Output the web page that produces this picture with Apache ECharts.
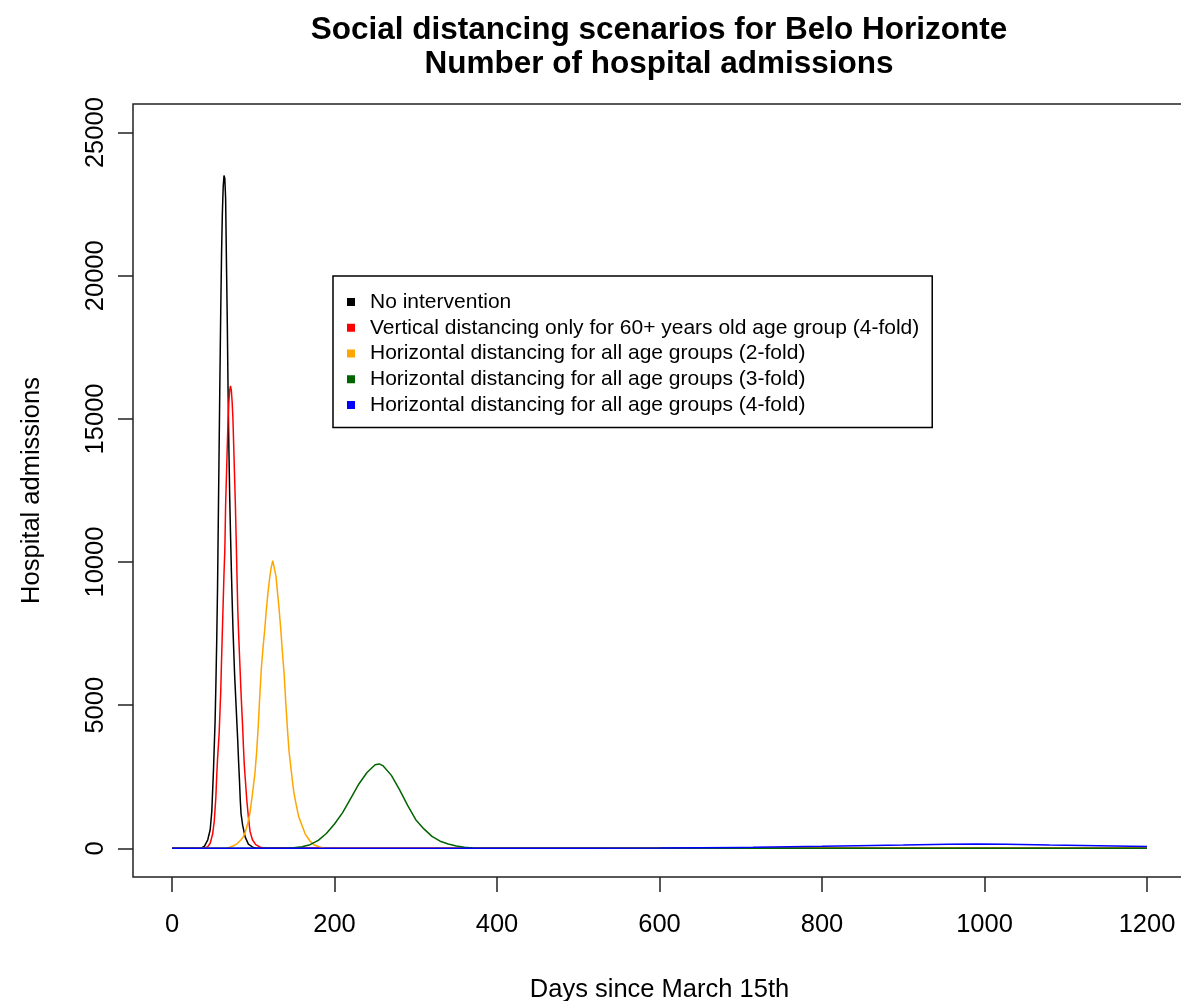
<!DOCTYPE html>
<html>
<head>
<meta charset="utf-8">
<title>Social distancing scenarios for Belo Horizonte</title>
<script src="https://cdn.jsdelivr.net/npm/echarts@6/dist/echarts.min.js"></script>
<style>
  html, body { margin: 0; padding: 0; background: #ffffff; }
  #chart { width: 1181px; height: 1001px; }
</style>
</head>
<body>
<div id="chart"></div>
<script>
// Daily hospital admissions per scenario, as [day, admissions] pairs.
var noIntervention = [
  [0, 0], [30, 0], [36, 5], [40, 80], [44, 300], [47, 650], [49, 1300], [51, 2700],
  [53, 4400], [54, 5700], [55, 7200], [56, 9000], [57, 11500], [58, 14000], [59, 16500],
  [60, 18800], [61, 20800], [62, 22200], [63, 23100], [64, 23500], [65, 23400],
  [66, 22700], [67, 20500], [68, 18500], [69, 16000], [70, 14000], [71, 12300],
  [72, 11000], [73, 9800], [74, 8700], [75, 7700], [76, 6900], [77, 6100], [78, 5500],
  [79, 4900], [80, 4300], [81, 3700], [82, 3000], [83, 2400], [84, 1700], [85, 1200],
  [87, 800], [90, 400], [94, 150], [100, 30], [105, 0], [1200, 0]
];
var verticalElderly4 = [
  [0, 0], [36, 0], [40, 10], [44, 60], [47, 180], [50, 500], [52, 950], [54, 1800],
  [55, 2500], [56, 3100], [58, 4000], [60, 5500], [61, 6600], [62, 7600], [63, 8600],
  [64, 9600], [65, 10400], [66, 12000], [67, 13000], [68, 14000], [69, 15000],
  [70, 15600], [71, 16000], [72, 16150], [73, 16000], [74, 15600], [75, 15000],
  [76, 14000], [77, 13000], [78, 12000], [79, 10800], [80, 9500], [81, 8300],
  [82, 7500], [83, 6800], [84, 6100], [85, 5400], [86, 4800], [87, 4200], [88, 3500],
  [89, 2900], [90, 2500], [91, 2100], [92, 1700], [94, 1100], [96, 600], [99, 300],
  [103, 130], [108, 50], [115, 0], [1200, 0]
];
var horizontal2 = [
  [0, 0], [65, 0], [70, 30], [75, 80], [80, 160], [85, 300], [88, 420], [90, 550],
  [93, 850], [96, 1250], [99, 1900], [102, 2600], [104, 3300], [106, 4200], [108, 5300],
  [110, 6300], [112, 7000], [114, 7600], [116, 8300], [118, 8900], [120, 9400],
  [122, 9800], [124, 10050], [125, 10100], [126, 10000], [128, 9500], [130, 8900],
  [132, 8300], [134, 7600], [136, 6800], [138, 6100], [140, 5100], [142, 4200],
  [144, 3400], [146, 2900], [148, 2400], [150, 1950], [153, 1500], [156, 1100],
  [160, 800], [164, 500], [170, 250], [175, 120], [182, 50], [190, 0], [1200, 0]
];
var horizontal3 = [
  [0, 0], [140, 0], [150, 20], [160, 60], [170, 130], [180, 280], [190, 520], [200, 850],
  [210, 1250], [220, 1750], [230, 2250], [240, 2650], [250, 2920], [255, 2950],
  [260, 2880], [270, 2550], [280, 2050], [290, 1500], [300, 1000], [310, 680],
  [320, 420], [330, 250], [340, 150], [350, 80], [360, 40], [370, 15], [380, 0], [1200, 0]
];
var horizontal4 = [
  [0, 0], [400, 2], [500, 5], [600, 12], [650, 20], [700, 32], [715, 36], [760, 55],
  [800, 70], [843, 90], [900, 115], [955, 140], [990, 150], [1027, 140], [1080, 115],
  [1140, 90], [1200, 65]
];

var seriesNames = [
  'No intervention',
  'Vertical distancing only for 60+ years old age group (4-fold)',
  'Horizontal distancing for all age groups (2-fold)',
  'Horizontal distancing for all age groups (3-fold)',
  'Horizontal distancing for all age groups (4-fold)'
];
var seriesColors = ['#000000', '#ff0000', '#ffa500', '#006400', '#0000ff'];
var seriesData = [noIntervention, verticalElderly4, horizontal2, horizontal3, horizontal4];

var xTicks = [0, 200, 400, 600, 800, 1000, 1200];
var yTicks = [0, 5000, 10000, 15000, 20000, 25000];

var FONT = '"Liberation Sans", Arial, Helvetica, sans-serif';

// plain integers, no thousands separator
function plain(v) { return String(Math.round(v)); }

var chart = echarts.init(document.getElementById('chart'), null, { renderer: 'canvas' });

chart.setOption({
  animation: false,
  backgroundColor: '#ffffff',
  title: {
    text: 'Social distancing scenarios for Belo Horizonte\nNumber of hospital admissions',
    left: 659,
    top: 13,
    padding: 0,
    textAlign: 'center',
    textStyle: {
      fontFamily: FONT,
      fontSize: 31.5,
      fontWeight: 'bold',
      color: '#000000',
      lineHeight: 34
    }
  },
  legend: {
    orient: 'vertical',
    left: 333,
    top: 276,
    padding: [15.5, 13, 12, 14],
    itemGap: 4.75,
    itemWidth: 8,
    itemHeight: 8,
    icon: 'rect',
    borderColor: '#000000',
    borderWidth: 1.5,
    backgroundColor: '#ffffff',
    selectedMode: false,
    data: seriesNames.map(function (n, i) {
      return { name: n, itemStyle: { color: seriesColors[i] } };
    }),
    textStyle: {
      fontFamily: FONT,
      fontSize: 21,
      lineHeight: 21,
      color: '#000000',
      padding: [0, 0, 0, 10]
    }
  },
  grid: {
    left: 133,
    top: 104,
    width: 1053,
    height: 773,
    outerBoundsMode: 'none',
    containLabel: false,
    show: true,
    borderColor: '#222222',
    borderWidth: 1.5,
    backgroundColor: 'transparent'
  },
  xAxis: {
    type: 'value',
    min: -48,
    max: 1248,
    name: 'Days since March 15th',
    nameLocation: 'middle',
    nameGap: 100,
    nameTextStyle: { fontFamily: FONT, fontSize: 25.5, color: '#000000' },
    axisLine: { show: false, onZero: false },
    axisTick: {
      show: true,
      length: 15,
      lineStyle: { color: '#222222', width: 1.5 },
      customValues: xTicks
    },
    axisLabel: {
      fontFamily: FONT,
      fontSize: 25.5,
      color: '#000000',
      margin: 35,
      formatter: plain,
      customValues: xTicks
    },
    splitLine: { show: false }
  },
  yAxis: {
    type: 'value',
    min: -1000,
    max: 26000,
    name: 'Hospital admissions',
    nameLocation: 'middle',
    nameGap: 88,
    nameTextStyle: { fontFamily: FONT, fontSize: 25.5, color: '#000000' },
    axisLine: { show: false, onZero: false },
    axisTick: {
      show: true,
      length: 15,
      lineStyle: { color: '#222222', width: 1.5 },
      customValues: yTicks
    },
    axisLabel: {
      fontFamily: FONT,
      fontSize: 25.5,
      color: '#000000',
      rotate: 90,
      margin: 24,
      formatter: plain,
      customValues: yTicks
    },
    splitLine: { show: false }
  },
  series: seriesData.map(function (d, i) {
    return {
      name: seriesNames[i],
      type: 'line',
      data: d,
      showSymbol: false,
      symbol: 'none',
      clip: true,
      color: seriesColors[i],
      lineStyle: { color: seriesColors[i], width: 1.5 },
      emphasis: { disabled: true }
    };
  })
});
</script>
</body>
</html>
